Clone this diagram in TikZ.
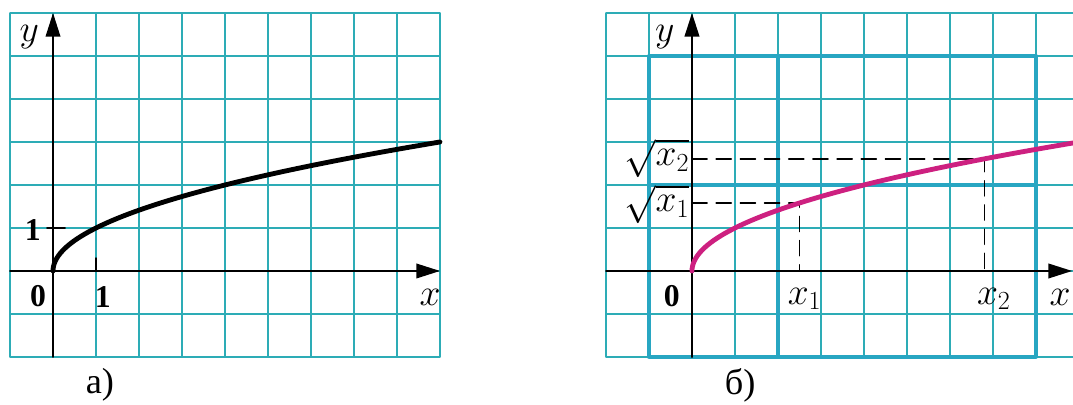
\documentclass[tikz,border=0pt]{standalone}
\usepackage{fontspec}
\setmainfont{Liberation Serif}
\usetikzlibrary{arrows.meta}

\definecolor{gridcyan}{RGB}{45,172,182}
\definecolor{gridblue}{RGB}{40,166,194}
\definecolor{curvemag}{RGB}{205,32,128}

\begin{document}
\begin{tikzpicture}[>={Triangle[length=5.5mm,width=3.4mm]},line cap=round,line join=round,
  font=\fontsize{24}{28}\selectfont,
  gridline/.style={gridcyan,line width=1.1pt},
  boldgrid/.style={gridblue,line width=2.2pt},
  axis/.style={->,line width=1.1pt},
  graph/.style={line width=3.2pt},
  digit/.style={font=\fontsize{21}{24}\selectfont},
  guide/.style={line width=1pt,dash pattern=on 10pt off 6pt}]

  \useasboundingbox (-1.233,-3.116) rectangle (23.721,6.302);

  % picture a)
  \draw[gridline] (-1,-2) grid (9,6);

  % axes
  \coordinate (OA) at (0,0);
  \draw[axis] (0,-2) -- (0,6);
  \draw[axis] (-1,0) -- (9,0);
  \node (yA) at (-0.55,5.45) {$y$};
  \node (xA) at (8.77,-0.62) {$x$};

  % unit marks
  \draw[line width=1.1pt] (-0.14,1) -- (0.28,1);
  \draw[line width=1.1pt] (1,0) -- (1,0.3);
  \node[digit] (oneY) at (-0.47,0.95) {$\mathbf{1}$};
  \node[digit] (oneX) at (1.16,-0.6) {$\mathbf{1}$};
  \node[digit] (zeroA) at (-0.35,-0.58) {$\mathbf{0}$};

  % y = sqrt(x)
  \draw[graph] plot[domain=0:3,samples=60,smooth] ({\x*\x},\x);

  \node (capA) at (1.09,-2.65) {а)};

  % picture b)
  \begin{scope}[xshift=14.86cm]
    \draw[gridline] (-2,-2) grid (8.86,6);
    \draw[boldgrid] (-1,-2) rectangle (8,5);
    \draw[boldgrid] (-1,2) -- (8,2);
    \draw[boldgrid] (2,-2) -- (2,5);

    % axes
    \coordinate (OB) at (0,0);
    \draw[axis,line width=1.4pt] (0,-2) -- (0,6);
    \draw[axis] (-2,0) -- (8.84,0);
    \node (yB) at (-0.63,5.45) {$y$};
    \node (xB) at (8.56,-0.62) {$x$};
    \node[digit] (zeroB) at (-0.47,-0.58) {$\mathbf{0}$};

    % two points on the graph
    \coordinate (P1) at (2.5,{sqrt(2.5)});
    \coordinate (P2) at (6.8,{sqrt(6.8)});
    \draw[guide] (P1 -| OB) -- (P1) -- (P1 |- OB);
    \draw[guide] (P2 -| OB) -- (P2) -- (P2 |- OB);

    \node (x1) at (2.62,-0.65) {$x_1$};
    \node (x2) at (7.02,-0.65) {$x_2$};
    \node[anchor=east,inner sep=1pt] (s1) at (-0.02,1.55) {$\sqrt{x_1}$};
    \node[anchor=east,inner sep=1pt] (s2) at (-0.02,2.62) {$\sqrt{x_2}$};

    % y = sqrt(x)
    \draw[graph,curvemag] plot[domain=0:2.977,samples=60,smooth] ({\x*\x},\x);

    \node (capB) at (1.12,-2.65) {б)};
  \end{scope}
\end{tikzpicture}
\end{document}
